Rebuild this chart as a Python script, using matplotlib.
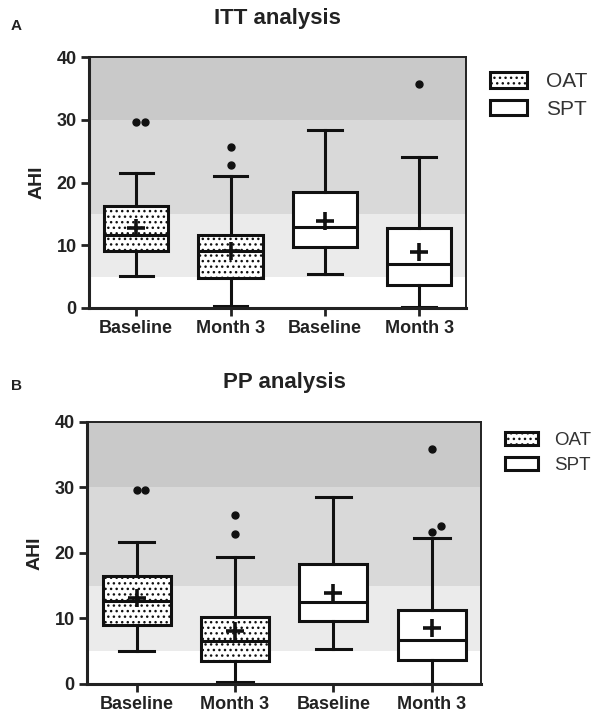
import matplotlib.pyplot as plt
from matplotlib.patches import Patch

plt.rcParams['font.family'] = ['Liberation Sans', 'DejaVu Sans']
plt.rcParams['hatch.color'] = '#808080'
plt.rcParams['hatch.linewidth'] = 1.0

labels = ['Baseline', 'Month 3', 'Baseline', 'Month 3']
groups = ['OAT', 'OAT', 'SPT', 'SPT']

# ITT analysis: whisker low, Q1, median, Q3, whisker high, mean, outliers
itt_whislo = [5.1, 0.3, 5.4, 0.1]
itt_q1 = [9.0, 4.8, 9.65, 3.7]
itt_med = [11.6, 9.0, 12.9, 7.05]
itt_q3 = [16.2, 11.7, 18.5, 12.7]
itt_whishi = [21.6, 21.0, 28.4, 24.1]
itt_mean = [12.8, 9.1, 13.9, 8.9]
itt_fliers = [[29.6, 29.6], [25.6, 22.8], [], [35.7]]

# PP analysis
pp_whislo = [5.05, 0.2, 5.3, 0.0]
pp_q1 = [8.9, 3.5, 9.65, 3.6]
pp_med = [12.6, 6.6, 12.5, 6.7]
pp_q3 = [16.5, 10.2, 18.3, 11.3]
pp_whishi = [21.6, 19.4, 28.5, 22.3]
pp_mean = [13.1, 8.0, 13.8, 8.5]
pp_fliers = [[29.6, 29.6], [25.7, 22.8], [], [35.8, 23.2, 24.1]]

bands = [(0, 5, 'white'), (5, 15, '#ebebeb'), (15, 30, '#d9d9d9'), (30, 40, '#c9c9c9')]


def draw_panel(ax, whislo, q1, med, q3, whishi, mean, fliers, width, leg_anchor, leg_size):
    for lo, hi, c in bands:
        ax.axhspan(lo, hi, color=c, zorder=0, lw=0)
    stats = []
    for i in range(len(labels)):
        stats.append(dict(whislo=whislo[i], q1=q1[i], med=med[i], q3=q3[i],
                          whishi=whishi[i], mean=mean[i], fliers=[]))
    bp = ax.bxp(stats, positions=range(len(labels)), widths=width, patch_artist=True,
                showmeans=True, showfliers=False,
                boxprops=dict(lw=2.2, edgecolor='#111111'),
                medianprops=dict(lw=2.2, color='#111111'),
                whiskerprops=dict(lw=2.2, color='#111111'),
                capprops=dict(lw=2.2, color='#111111'),
                capwidths=width * 0.52,
                meanprops=dict(marker='+', markersize=13, markeredgewidth=2.6,
                               markeredgecolor='#111111'))
    for patch, g in zip(bp['boxes'], groups):
        patch.set_facecolor('white')
        if g == 'OAT':
            patch.set_hatch('...')
    for i, fl in enumerate(fliers):
        placed = []
        for v in fl:
            n = sum(1 for p in placed if abs(p - v) < 1.5)
            ax.plot(i + 0.09 * n, v, 'o', ms=5, color='#111111', zorder=5)
            placed.append(v)
    ax.set_xlim(-0.5, 3.5)
    ax.set_ylim(0, 40)
    ax.set_yticks([0, 10, 20, 30, 40])
    ax.set_xticks(range(len(labels)))
    ax.set_xticklabels(labels)
    for s in ax.spines.values():
        s.set_linewidth(2.2)
        s.set_color('#222222')
    ax.spines['top'].set_linewidth(1.4)
    ax.spines['right'].set_linewidth(1.4)
    ax.tick_params(axis='both', width=2, length=6, labelsize=13, colors='#222222', pad=3)
    for t in ax.get_xticklabels() + ax.get_yticklabels():
        t.set_fontweight('bold')
    ax.set_ylabel('AHI', fontsize=14, fontweight='bold', color='#222222', labelpad=8)
    handles = [Patch(facecolor='white', edgecolor='#111111', hatch='...', lw=2.2, label='OAT'),
               Patch(facecolor='white', edgecolor='#111111', lw=2.2, label='SPT')]
    ax.legend(handles=handles, loc='upper left', bbox_to_anchor=leg_anchor, frameon=False,
              fontsize=leg_size, handlelength=1.75, handleheight=0.75, handletextpad=0.9,
              labelspacing=0.4, borderaxespad=0, borderpad=0, labelcolor='#333333')


fig = plt.figure(figsize=(5.94, 7.16), dpi=100)

ax1 = fig.add_axes([0.150, 0.570, 0.635, 0.350])
draw_panel(ax1, itt_whislo, itt_q1, itt_med, itt_q3, itt_whishi, itt_mean, itt_fliers,
           0.68, (1.064, 0.94), 15)
ax1.set_title('ITT analysis', fontsize=16, fontweight='bold', pad=24, color='#222222')
fig.text(0.018, 0.958, 'A', fontsize=11, fontweight='bold', color='#222222')

ax2 = fig.add_axes([0.147, 0.045, 0.663, 0.366])
draw_panel(ax2, pp_whislo, pp_q1, pp_med, pp_q3, pp_whishi, pp_mean, pp_fliers,
           0.69, (1.06, 0.962), 13.5)
ax2.set_title('PP analysis', fontsize=16, fontweight='bold', pad=24, color='#222222')
fig.text(0.018, 0.455, 'B', fontsize=11, fontweight='bold', color='#222222')

fig.savefig('out.png', dpi=100)
